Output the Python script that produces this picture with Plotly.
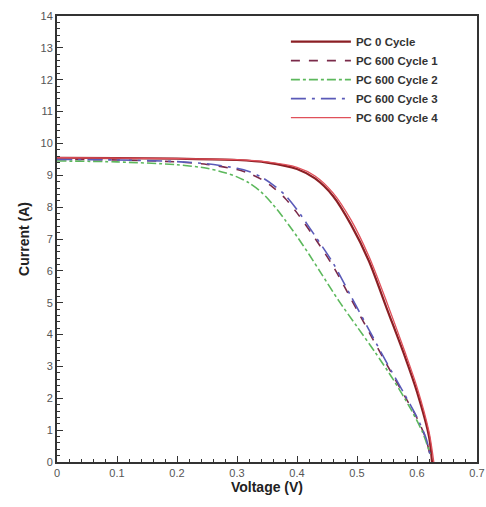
import plotly.graph_objects as go

# PC 0 Cycle
v_pc0 = [0, 0.1, 0.2, 0.3, 0.35, 0.4, 0.43, 0.46, 0.49, 0.52, 0.55, 0.58, 0.60, 0.62, 0.625]
i_pc0 = [9.55, 9.54, 9.52, 9.48, 9.40, 9.2, 8.9, 8.35, 7.45, 6.3, 4.8, 3.3, 2.2, 0.8, 0.0]

# PC 600 Cycle 1
v_c1 = [0, 0.1, 0.2, 0.25, 0.3, 0.32, 0.34, 0.36, 0.38, 0.40, 0.43, 0.46, 0.49, 0.52, 0.55, 0.58, 0.60, 0.615, 0.623]
i_c1 = [9.5, 9.48, 9.42, 9.34, 9.18, 9.06, 8.88, 8.62, 8.28, 7.82, 7.02, 6.15, 5.12, 4.08, 3.05, 2.05, 1.38, 0.72, 0.1]

# PC 600 Cycle 2
v_c2 = [0, 0.1, 0.2, 0.25, 0.28, 0.30, 0.32, 0.34, 0.36, 0.38, 0.40, 0.42, 0.44, 0.47, 0.50, 0.53, 0.56, 0.59, 0.61, 0.622]
i_c2 = [9.45, 9.42, 9.33, 9.22, 9.08, 8.95, 8.76, 8.48, 8.08, 7.6, 7.08, 6.52, 5.93, 5.05, 4.25, 3.45, 2.6, 1.65, 0.9, 0.25]

# PC 600 Cycle 3
v_c3 = [0, 0.1, 0.2, 0.25, 0.3, 0.32, 0.34, 0.36, 0.38, 0.40, 0.43, 0.46, 0.49, 0.52, 0.55, 0.58, 0.60, 0.615, 0.623]
i_c3 = [9.5, 9.48, 9.43, 9.36, 9.22, 9.12, 8.95, 8.7, 8.38, 7.92, 7.1, 6.25, 5.2, 4.15, 3.1, 2.1, 1.4, 0.75, 0.1]

# PC 600 Cycle 4
v_c4 = [0, 0.1, 0.2, 0.3, 0.35, 0.4, 0.43, 0.46, 0.49, 0.52, 0.55, 0.58, 0.60, 0.62, 0.628]
i_c4 = [9.55, 9.54, 9.52, 9.49, 9.42, 9.25, 8.98, 8.45, 7.6, 6.45, 5.0, 3.45, 2.35, 0.95, 0.0]

x_ticks = [0, 0.1, 0.2, 0.3, 0.4, 0.5, 0.6, 0.7]
x_tick_labels = ["0", "0.1", "0.2", "0.3", "0.4", "0.5", "0.6", "0.7"]
y_ticks = list(range(0, 15))

fig = go.Figure()
fig.add_trace(go.Scatter(x=v_pc0, y=i_pc0, mode="lines", name="PC 0 Cycle",
                         line=dict(color="#8b1f24", width=2.2, shape="spline", smoothing=0.8)))
fig.add_trace(go.Scatter(x=v_c1, y=i_c1, mode="lines", name="PC 600 Cycle 1",
                         line=dict(color="#7a2a4a", width=1.6, dash="dash", shape="spline", smoothing=0.8)))
fig.add_trace(go.Scatter(x=v_c2, y=i_c2, mode="lines", name="PC 600 Cycle 2",
                         line=dict(color="#5cb85c", width=1.6, dash="dashdot", shape="spline", smoothing=0.8)))
fig.add_trace(go.Scatter(x=v_c3, y=i_c3, mode="lines", name="PC 600 Cycle 3",
                         line=dict(color="#5a5ab8", width=1.6, dash="longdashdot", shape="spline", smoothing=0.8)))
fig.add_trace(go.Scatter(x=v_c4, y=i_c4, mode="lines", name="PC 600 Cycle 4",
                         line=dict(color="#e0505a", width=1.3, shape="spline", smoothing=0.8)))

axis_common = dict(showline=True, linecolor="#333333", linewidth=2, mirror=True,
                   showgrid=False, zeroline=False, ticks="inside", ticklen=6,
                   tickcolor="#333333", tickwidth=1.2, automargin=False,
                   tickfont=dict(family="Liberation Sans", size=11, color="#555555"))

fig.update_xaxes(range=[0, 0.7], tickvals=x_ticks, ticktext=x_tick_labels,
                 minor=dict(ticks="inside", ticklen=3, dtick=0.02, tickcolor="#333333"),
                 title=dict(text="<b>Voltage (V)</b>", font=dict(family="Liberation Sans", size=14, color="#222222"),
                            standoff=4),
                 **axis_common)
fig.update_yaxes(range=[0, 14], tickvals=y_ticks,
                 minor=dict(ticks="inside", ticklen=3, dtick=0.2, tickcolor="#333333"),
                 title=dict(text="<b>Current (A)</b>", font=dict(family="Liberation Sans", size=14, color="#222222"),
                            standoff=8),
                 **axis_common)

fig.update_layout(
    width=486, height=507,
    margin=dict(l=57, r=9, t=16, b=45),
    paper_bgcolor="white", plot_bgcolor="white",
    legend=dict(x=0.545, y=0.975, xanchor="left", yanchor="top",
                bgcolor="rgba(0,0,0,0)", borderwidth=0,
                font=dict(family="Liberation Sans", size=11.5, color="#333333", weight="bold"),
                tracegroupgap=0, itemwidth=60),
    showlegend=True,
)

fig.write_html("out.html", config={"displayModeBar": False},
               post_script="document.body.style.margin='0px';document.body.style.overflow='hidden';")
